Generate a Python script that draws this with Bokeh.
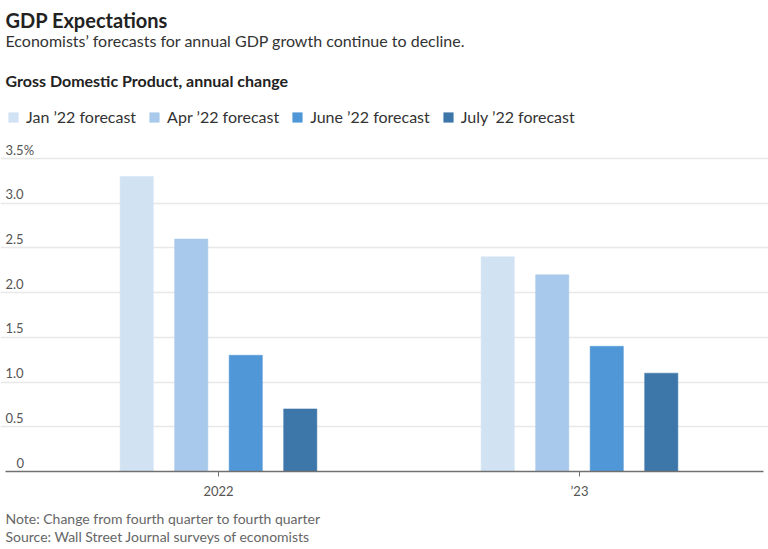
from bokeh.plotting import figure
from bokeh.models import (ColumnDataSource, FixedTicker, Label, LabelSet,
                          Legend, LegendItem, Range1d)
from bokeh.core.properties import value
from bokeh.transform import dodge
from bokeh.embed import file_html
from bokeh.resources import INLINE

# --- data -----------------------------------------------------------------
years = ["2022", "\u201923"]
series = ["Jan \u201922 forecast", "Apr \u201922 forecast",
          "June \u201922 forecast", "July \u201922 forecast"]
jan_forecast = [3.3, 2.4]
apr_forecast = [2.6, 2.2]
june_forecast = [1.3, 1.4]
july_forecast = [0.7, 1.1]
y_ticks = [0, 0.5, 1.0, 1.5, 2.0, 2.5, 3.0, 3.5]
y_tick_labels = ["0", "0.5", "1.0", "1.5", "2.0", "2.5", "3.0", "3.5%"]

colors = ["#d1e2f3", "#a8c9eb", "#4f97d6", "#3d76a8"]
FONT = "Lato"

source = ColumnDataSource(dict(
    x=list(range(len(years))),
    jan=jan_forecast, apr=apr_forecast, june=june_forecast, july=july_forecast,
))
fields = ["jan", "apr", "june", "july"]

# --- figure ---------------------------------------------------------------
# The frame covers the whole canvas so headline texts, legend and notes can be
# placed anywhere; the ranges put the bar area between canvas y 158 and 471.
W, H = 768, 549
px_per_unit_y = (471 - 158) / 3.5
px_per_group = 361.0
x_lo = -218 / px_per_group
x_hi = 1 + (W - 579) / px_per_group
y_lo = -(H - 471) / px_per_unit_y
y_hi = 3.5 + 158 / px_per_unit_y
area = ((5 - 218) / px_per_group, 1 + (763 - 579) / px_per_group)

p = figure(width=W, height=H, output_backend="svg", toolbar_location=None,
           x_range=Range1d(x_lo, x_hi), y_range=Range1d(y_lo, y_hi),
           min_border=0)
p.outline_line_color = None
p.background_fill_color = "white"
p.border_fill_color = "white"
p.yaxis.visible = False
p.xgrid.visible = False
p.ygrid.ticker = FixedTicker(ticks=y_ticks[1:])
p.ygrid.bounds = area
p.ygrid.grid_line_color = "#e8e8e8"
p.ygrid.grid_line_width = 1.5

ax = p.xaxis[0]
ax.fixed_location = 0
ax.bounds = area
ax.ticker = FixedTicker(ticks=list(range(len(years))))
ax.major_label_overrides = {i: y for i, y in enumerate(years)}
ax.axis_line_color = "#707070"
ax.axis_line_width = 1.5
ax.major_tick_line_color = "#707070"
ax.major_tick_in = 0
ax.major_tick_out = 5
ax.minor_tick_line_color = None
ax.major_label_standoff = 6
ax.major_label_text_font = FONT
ax.major_label_text_font_size = "13px"
ax.major_label_text_color = "#555555"

# --- bars -----------------------------------------------------------------
bar_w = 0.092
step = 0.151
renderers = []
for i, (f, c) in enumerate(zip(fields, colors)):
    off = (i - 1.5) * step
    r = p.vbar(x=dodge("x", off), top=f, width=bar_w, source=source,
               fill_color=c, line_color=c, line_width=0.5)
    renderers.append(r)

# legend row centred on canvas y 116 (location gives its bottom-left corner)
legend = Legend(items=[LegendItem(label=s, renderers=[r])
                       for s, r in zip(series, renderers)],
                orientation="horizontal", location=(7, H - 126),
                glyph_width=12, glyph_height=12, label_standoff=7, spacing=12,
                padding=0, margin=0, border_line_color=None,
                background_fill_alpha=0,
                label_text_font=FONT, label_text_font_size="16px",
                label_text_color="#333333")
p.add_layout(legend)

# --- y tick labels sit above their gridlines --------------------------------
tick_src = ColumnDataSource(dict(
    y=y_ticks, text=y_tick_labels,
    x=[16 if t == "0" else 5 for t in y_tick_labels],
))
p.add_layout(LabelSet(x="x", y="y", text="text", source=tick_src,
                      x_units="screen", y_units="data", y_offset=4,
                      text_baseline="alphabetic", text_align="left",
                      text_font=value(FONT), text_font_size=value("13px"),
                      text_color="#555555"))

# --- headline texts and notes (canvas px, alphabetic baseline) ---------------
def add_text(text, cx, baseline, size, color, bold=False):
    p.add_layout(Label(x=cx, y=H - baseline,
                       x_units="screen", y_units="screen", text=text,
                       text_baseline="alphabetic", text_align="left",
                       text_font=FONT, text_font_size=size, text_color=color,
                       text_font_style="bold" if bold else "normal"))

add_text("GDP Expectations", 5, 19, "20px", "#222222", bold=True)
add_text("Economists\u2019 forecasts for annual GDP growth continue to decline.",
         5, 40, "16px", "#333333")
add_text("Gross Domestic Product, annual change", 5, 80, "16px", "#222222", bold=True)
add_text("Note: Change from fourth quarter to fourth quarter", 5, 518, "14px", "#666666")
add_text("Source: Wall Street Journal surveys of economists", 5, 536, "14px", "#666666")

open("out.html", "w").write(file_html(p, INLINE))
